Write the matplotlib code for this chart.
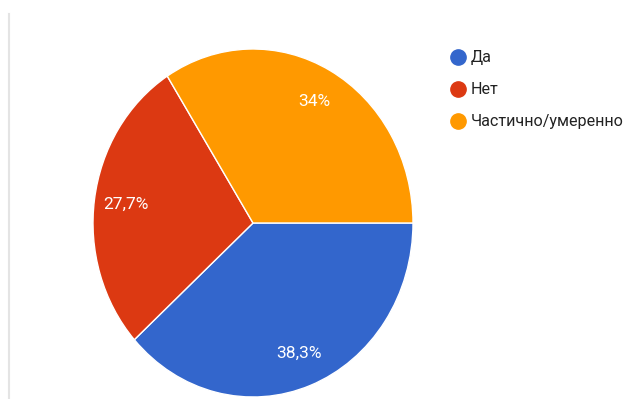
import matplotlib.pyplot as plt
from matplotlib.lines import Line2D

labels = ['Да', 'Нет', 'Частично/умеренно']
shares = [38.3, 27.7, 34.0]
colors = ['#3366cc', '#dc3912', '#ff9900']

# the source picture is a little stretched vertically
stretch = 1.0875

fig = plt.figure(figsize=(6.33, 3.99), dpi=100)
ax = fig.add_axes([0, 0, 1, 1])

def fmt(p):
    s = ('%.1f' % p).rstrip('0').rstrip('.')
    return s.replace('.', ',') + '%'

# x in pixels, y in pixels / stretch (from bottom)
ax.pie(shares, colors=colors, startangle=0, counterclock=False,
       center=(253, (399 - 223) / stretch), radius=160, frame=True,
       autopct=fmt, pctdistance=0.8,
       wedgeprops=dict(edgecolor='white', linewidth=1),
       textprops=dict(color='white', fontsize=12.5, family='Roboto'))
ax.set_xlim(0, 633)
ax.set_ylim(0, 399 / stretch)
ax.set_aspect('auto')
ax.axis('off')

# faint border on the left
ax.plot([9, 9], [0, 385 / stretch], color='#e4e4e4', lw=1.5)

handles = [Line2D([], [], marker='o', linestyle='', markersize=11,
                  markerfacecolor=c, markeredgecolor=c) for c in colors]
fig.legend(handles, labels, loc='upper left', bbox_to_anchor=(0.686, 0.91),
           frameon=False, prop={'family': 'Roboto', 'size': 11.6},
           handletextpad=0.15, labelspacing=1.05, handlelength=1.2,
           labelcolor='#222222')

fig.savefig('out.png', dpi=100)
